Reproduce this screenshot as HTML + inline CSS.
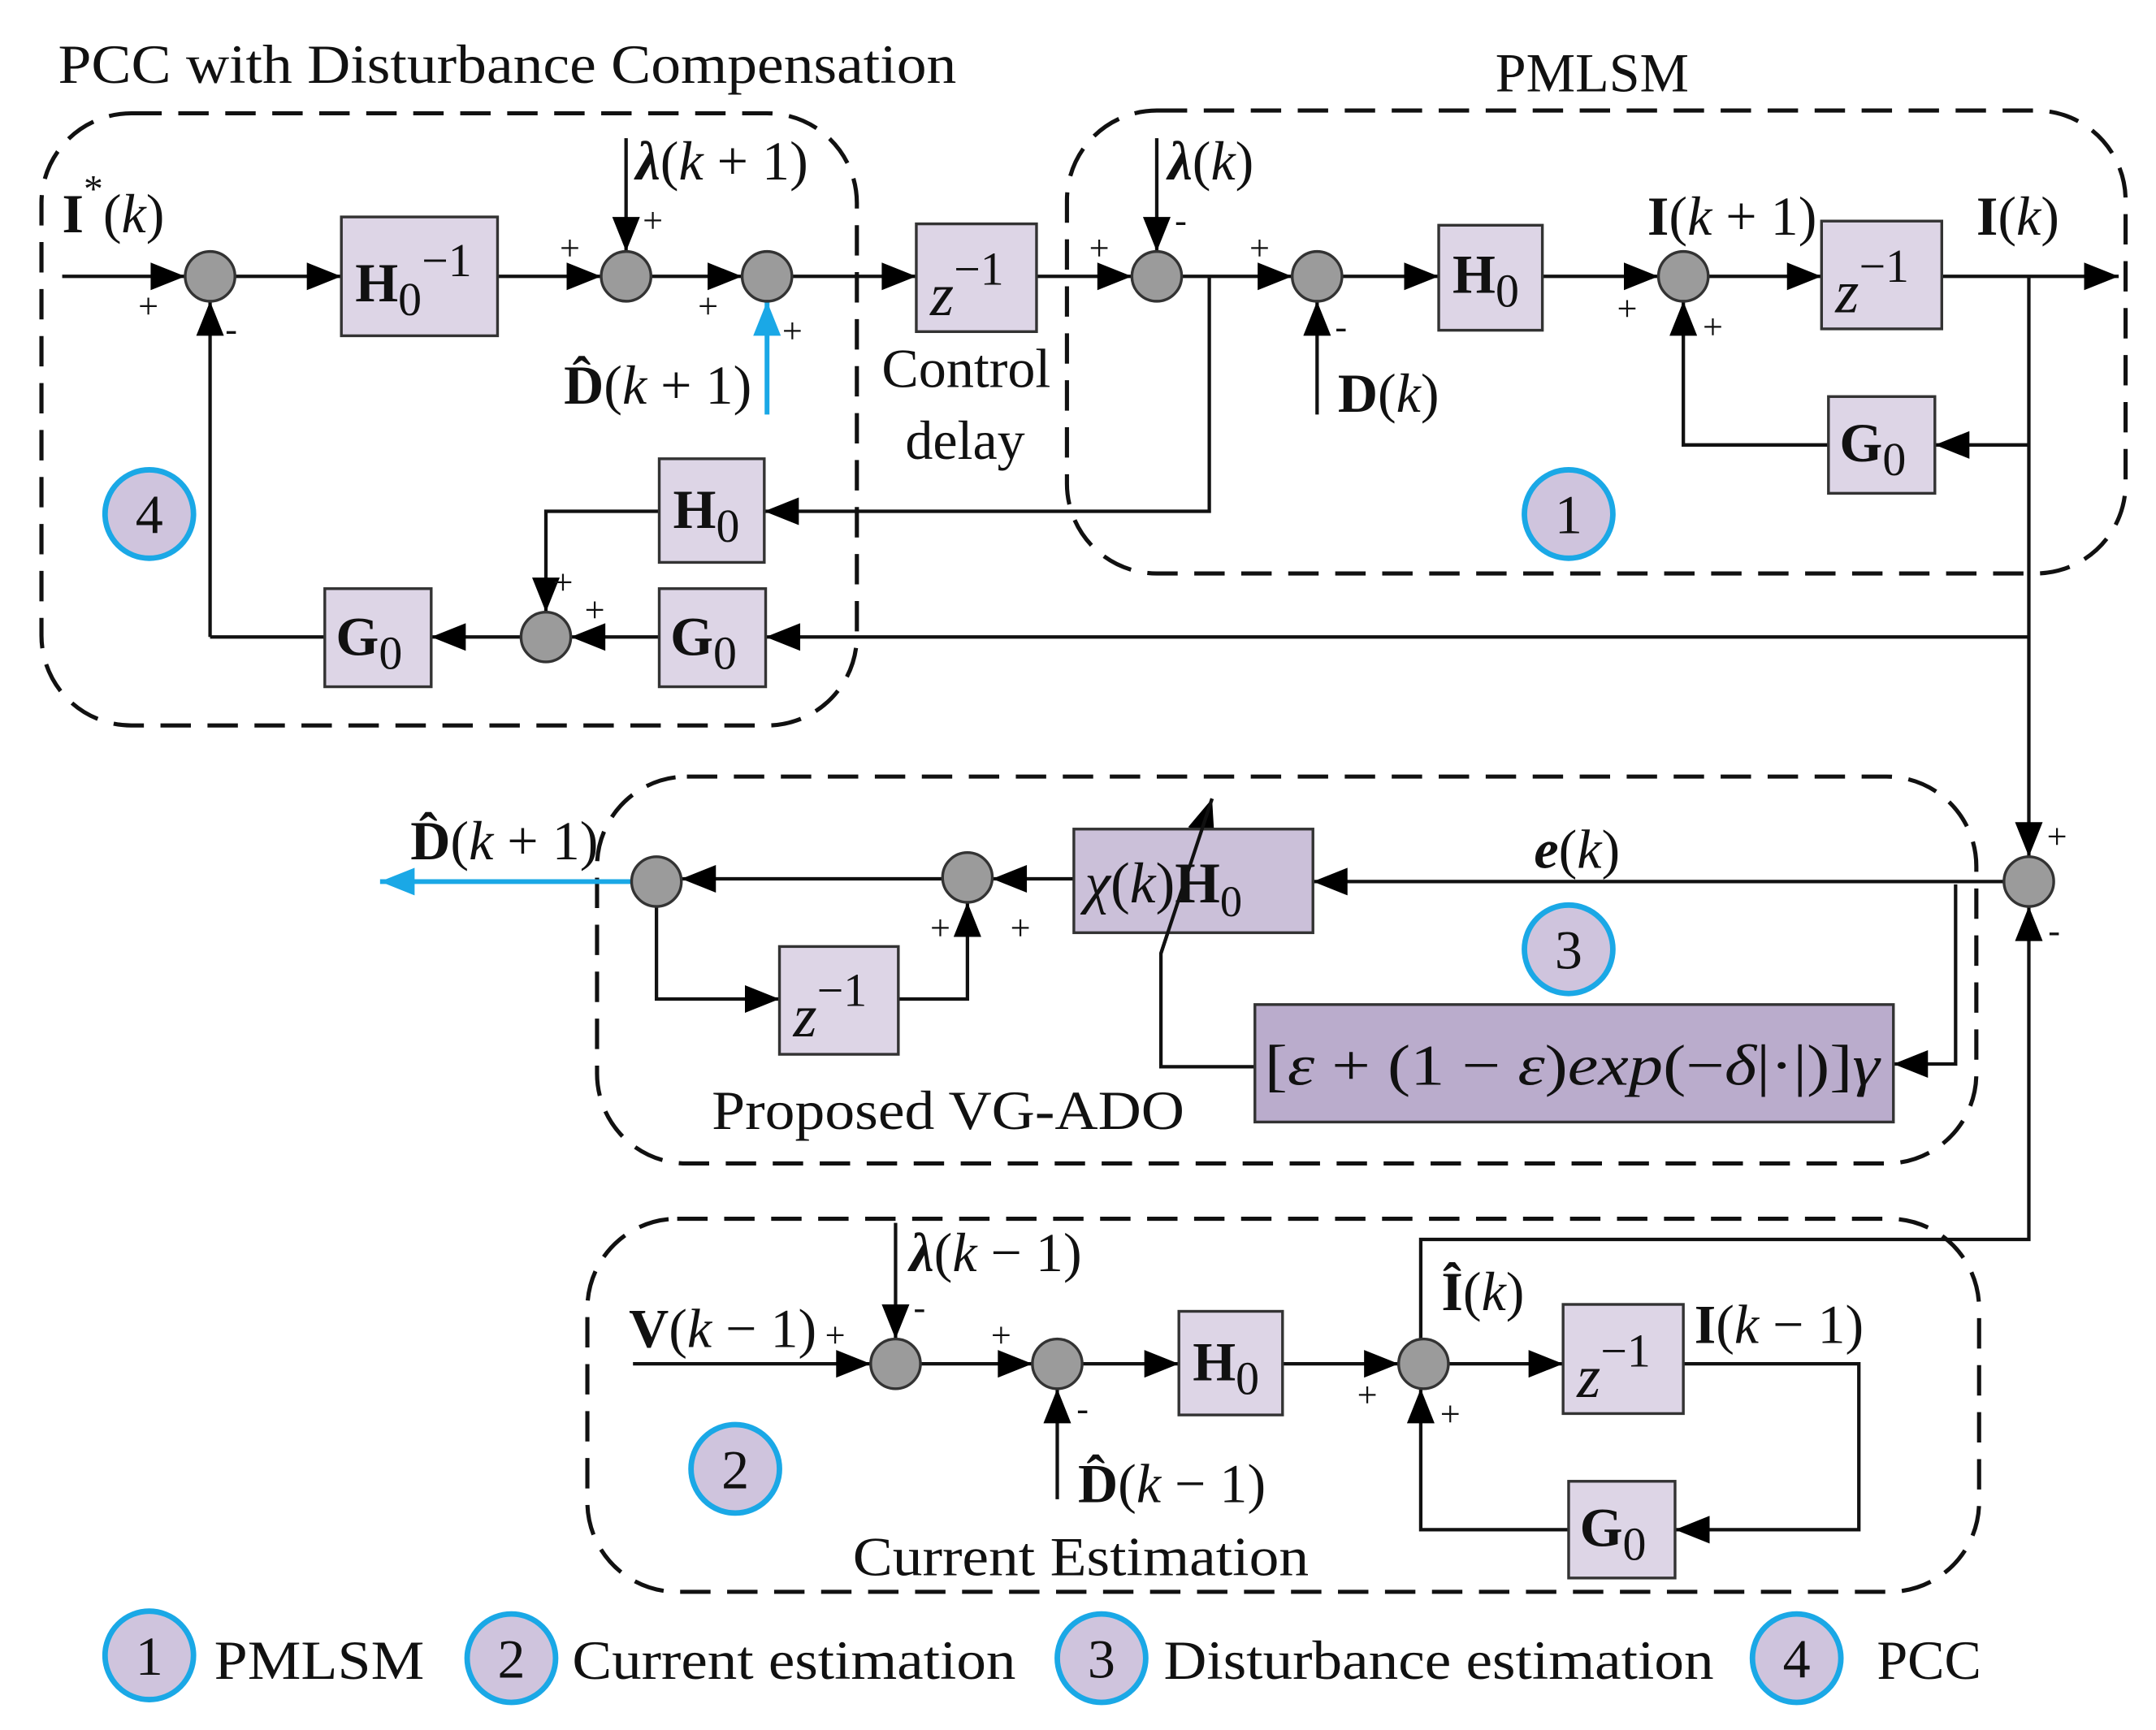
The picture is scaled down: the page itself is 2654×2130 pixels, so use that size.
<!DOCTYPE html>
<html><head><meta charset="utf-8"><style>
html,body{margin:0;padding:0;background:#fff}
svg{display:block}
text{font-family:"Liberation Serif",serif;fill:#111}
.b{font-weight:bold}
.i{font-style:italic}
</style></head><body>
<svg width="2654" height="2130" viewBox="0 0 1560 1252" preserveAspectRatio="none" xmlns="http://www.w3.org/2000/svg">
<defs>
<marker id="A" viewBox="0 0 10 8" refX="10" refY="4" markerWidth="28" markerHeight="20" orient="auto" markerUnits="userSpaceOnUse"><path d="M0,0 L10,4 L0,8z" fill="#000"/></marker>
<marker id="B" viewBox="0 0 10 8" refX="10" refY="4" markerWidth="28" markerHeight="20" orient="auto" markerUnits="userSpaceOnUse"><path d="M0,0 L10,4 L0,8z" fill="#1aa8e6"/></marker>
</defs>
<g fill="none" stroke="#111" stroke-width="3" stroke-dasharray="22,12">
<rect x="30" y="82" width="590" height="443" rx="65"/>
<rect x="772" y="80" width="766" height="335" rx="65"/>
<rect x="432" y="562" width="998" height="280" rx="65"/>
<rect x="425" y="882" width="1007" height="270" rx="65"/>
</g>
<g font-size="40">
<text x="42" y="60" textLength="650" lengthAdjust="spacingAndGlyphs">PCC with Disturbance Compensation</text>
<text x="1082" y="66">PMLSM</text>
<text x="638" y="280">Control</text>
<text x="655" y="332">delay</text>
<text x="515" y="817" textLength="342" lengthAdjust="spacingAndGlyphs">Proposed VG-ADO</text>
<text x="617" y="1140" textLength="330" lengthAdjust="spacingAndGlyphs">Current Estimation</text>
<text x="155" y="1215" textLength="152" lengthAdjust="spacingAndGlyphs">PMLSM</text>
<text x="414" y="1215" textLength="321" lengthAdjust="spacingAndGlyphs">Current estimation</text>
<text x="842" y="1215" textLength="398" lengthAdjust="spacingAndGlyphs">Disturbance estimation</text>
<text x="1358" y="1215">PCC</text>
</g>
<g stroke="#111" stroke-width="2.5" fill="none" marker-end="url(#A)">
<path d="M45,200 H134"/>
<path d="M152,461 V218"/>
<path d="M170,200 H247"/>
<path d="M360,200 H435"/>
<path d="M453,100 V182"/>
<path d="M471,200 H537"/>
<path d="M573,200 H663"/>
<path d="M750,200 H819"/>
<path d="M837,100 V182"/>
<path d="M855,200 H935"/>
<path d="M875,200 V370 H553"/>
<path d="M953,300 V218"/>
<path d="M971,200 H1041"/>
<path d="M1116,200 H1200"/>
<path d="M1236,200 H1318"/>
<path d="M1405,200 H1533"/>
<path d="M1468,200 V620"/>
<path d="M1468,322 H1400"/>
<path d="M1323,322 H1218 V218"/>
<path d="M1468,461 H554"/>
<path d="M477,461 H413"/>
<path d="M477,370 H395 V443"/>
<path d="M377,461 H312"/>
<path d="M1450,638 H950"/>
<path d="M1415,640 V770 H1370"/>
<path d="M908,772 H840 V690 L877,578"/>
<path d="M777,636 H718"/>
<path d="M650,723 H700 V653"/>
<path d="M682,636 H493"/>
<path d="M475,656 V723 H564"/>
<path d="M1028,969 V897 H1468 V656"/>
<path d="M458,987 H630"/>
<path d="M648,885 V969"/>
<path d="M666,987 H747"/>
<path d="M765,1085 V1005"/>
<path d="M783,987 H853"/>
<path d="M928,987 H1012"/>
<path d="M1048,987 H1131"/>
<path d="M1218,987 H1345 V1107 H1212"/>
<path d="M1135,1107 H1028 V1005"/>
</g>
<path d="M152,461 H235" stroke="#111" stroke-width="2.5"/>
<g stroke="#1aa8e6" stroke-width="3.5" fill="none" marker-end="url(#B)">
<path d="M555,300 V218"/>
<path d="M457,638 H275"/>
</g>
<g fill="#9b9b9b" stroke="#333" stroke-width="2">
<circle cx="152" cy="200" r="18"/><circle cx="453" cy="200" r="18"/><circle cx="555" cy="200" r="18"/>
<circle cx="837" cy="200" r="18"/><circle cx="953" cy="200" r="18"/><circle cx="1218" cy="200" r="18"/>
<circle cx="395" cy="461" r="18"/><circle cx="475" cy="638" r="18"/><circle cx="700" cy="635" r="18"/>
<circle cx="1468" cy="638" r="18"/><circle cx="648" cy="987" r="18"/><circle cx="765" cy="987" r="18"/>
<circle cx="1030" cy="987" r="18"/>
</g>
<g fill="#ddd5e6" stroke="#333" stroke-width="2">
<rect x="247" y="157" width="113" height="86"/>
<rect x="663" y="162" width="87" height="78"/>
<rect x="1041" y="163" width="75" height="76"/>
<rect x="1318" y="160" width="87" height="78"/>
<rect x="1323" y="287" width="77" height="70"/>
<rect x="477" y="332" width="76" height="75"/>
<rect x="477" y="426" width="77" height="71"/>
<rect x="235" y="426" width="77" height="71"/>
<rect x="564" y="685" width="86" height="78"/>
<rect x="853" y="949" width="75" height="75"/>
<rect x="1131" y="944" width="87" height="79"/>
<rect x="1135" y="1072" width="77" height="70"/>
<rect x="777" y="600" width="173" height="75" fill="#cbc0d9"/>
<rect x="908" y="727" width="462" height="85" fill="#baaccc"/>
</g>
<path d="M840,690 L877,578" stroke="#111" stroke-width="2.5" fill="none"/>
<g fill="#cfc4dd" stroke="#1aa8e6" stroke-width="4">
<circle cx="108" cy="372" r="32"/><circle cx="1135" cy="372" r="32"/><circle cx="1135" cy="687" r="32"/><circle cx="532" cy="1063" r="32"/>
<circle cx="108" cy="1198" r="32"/><circle cx="370" cy="1200" r="32"/><circle cx="797" cy="1200" r="32"/><circle cx="1300" cy="1200" r="32"/>
</g>
<g font-size="40" text-anchor="middle">
<text x="108" y="386">4</text><text x="1135" y="386">1</text><text x="1135" y="701">3</text><text x="532" y="1077">2</text>
<text x="108" y="1212">1</text><text x="370" y="1214">2</text><text x="797" y="1214">3</text><text x="1300" y="1214">4</text>
</g>
<g font-size="40">
<text x="257" y="218" class="b">H<tspan font-size="34" font-weight="normal" dy="10">0</tspan><tspan font-size="34" font-weight="normal" dy="-28">−1</tspan></text>
<text x="673" y="228" class="i" font-size="44">z<tspan font-size="34" font-style="normal" dy="-22">−1</tspan></text>
<text x="1328" y="226" class="i" font-size="44">z<tspan font-size="34" font-style="normal" dy="-22">−1</tspan></text>
<text x="574" y="750" class="i" font-size="44">z<tspan font-size="34" font-style="normal" dy="-22">−1</tspan></text>
<text x="1141" y="1011" class="i" font-size="44">z<tspan font-size="34" font-style="normal" dy="-22">−1</tspan></text>
<text x="1051" y="212" class="b">H<tspan font-size="34" font-weight="normal" dy="10">0</tspan></text>
<text x="487" y="382" class="b">H<tspan font-size="34" font-weight="normal" dy="10">0</tspan></text>
<text x="863" y="999" class="b">H<tspan font-size="34" font-weight="normal" dy="10">0</tspan></text>
<text x="1331" y="334" class="b">G<tspan font-size="34" font-weight="normal" dy="10">0</tspan></text>
<text x="485" y="474" class="b">G<tspan font-size="34" font-weight="normal" dy="10">0</tspan></text>
<text x="243" y="474" class="b">G<tspan font-size="34" font-weight="normal" dy="10">0</tspan></text>
<text x="1143" y="1119" class="b">G<tspan font-size="34" font-weight="normal" dy="10">0</tspan></text>
<text x="785" y="653" font-size="42"><tspan class="i">χ</tspan>(<tspan class="i">k</tspan>)<tspan class="b">H</tspan><tspan font-size="32" dy="10">0</tspan></text>
<text x="915" y="785" font-size="42" textLength="445" lengthAdjust="spacingAndGlyphs">[<tspan class="i">ε</tspan> + (1 − <tspan class="i">ε</tspan>)<tspan class="i">exp</tspan>(−<tspan class="i">δ</tspan>|·|)]<tspan class="i">γ</tspan></text>
<text x="45" y="168"><tspan class="b">I</tspan><tspan font-size="28" dy="-22">*</tspan><tspan dy="22">(</tspan><tspan class="i">k</tspan>)</text>
<text x="460" y="130"><tspan class="b i">λ</tspan>(<tspan class="i">k</tspan> + 1)</text>
<text x="845" y="130"><tspan class="b i">λ</tspan>(<tspan class="i">k</tspan>)</text>
<text x="408" y="292"><tspan class="b">D̂</tspan>(<tspan class="i">k</tspan> + 1)</text>
<text x="968" y="298"><tspan class="b">D</tspan>(<tspan class="i">k</tspan>)</text>
<text x="1192" y="170"><tspan class="b">I</tspan>(<tspan class="i">k</tspan> + 1)</text>
<text x="1430" y="170"><tspan class="b">I</tspan>(<tspan class="i">k</tspan>)</text>
<text x="1110" y="628"><tspan class="b i">e</tspan>(<tspan class="i">k</tspan>)</text>
<text x="297" y="622"><tspan class="b">D̂</tspan>(<tspan class="i">k</tspan> + 1)</text>
<text x="455" y="975"><tspan class="b">V</tspan>(<tspan class="i">k</tspan> − 1)</text>
<text x="658" y="920"><tspan class="b i">λ</tspan>(<tspan class="i">k</tspan> − 1)</text>
<text x="780" y="1087"><tspan class="b">D̂</tspan>(<tspan class="i">k</tspan> − 1)</text>
<text x="1043" y="948"><tspan class="b">Î</tspan>(<tspan class="i">k</tspan>)</text>
<text x="1226" y="972"><tspan class="b">I</tspan>(<tspan class="i">k</tspan> − 1)</text>
</g>
<g font-size="26">
<text x="100" y="230">+</text><text x="163" y="247">-</text>
<text x="405" y="188">+</text><text x="465" y="168">+</text>
<text x="505" y="230">+</text><text x="566" y="248">+</text>
<text x="788" y="188">+</text><text x="850" y="168">-</text>
<text x="904" y="188">+</text><text x="966" y="245">-</text>
<text x="1170" y="232">+</text><text x="1232" y="245">+</text>
<text x="400" y="430">+</text><text x="423" y="450">+</text>
<text x="1481" y="614">+</text><text x="1482" y="682">-</text>
<text x="673" y="680">+</text><text x="731" y="680">+</text>
<text x="597" y="975">+</text><text x="661" y="955">-</text>
<text x="717" y="975">+</text><text x="779" y="1028">-</text>
<text x="982" y="1018">+</text><text x="1042" y="1032">+</text>
</g>
</svg>
</body></html>
